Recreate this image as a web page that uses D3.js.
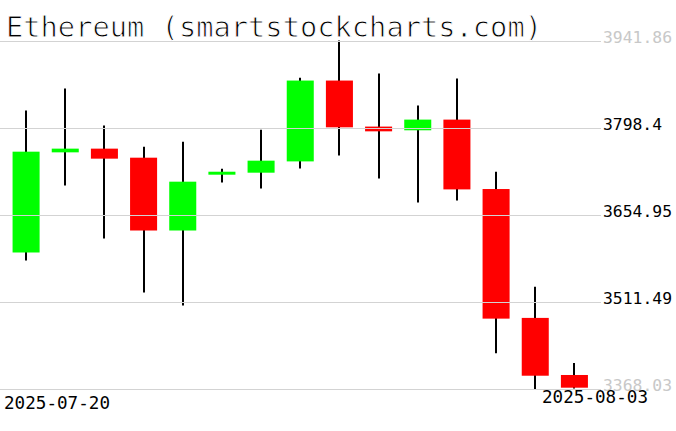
<!DOCTYPE html>
<html><head><meta charset="utf-8">
<script src="https://cdn.jsdelivr.net/npm/d3@7"></script>
<style>body{margin:0;background:#fff}svg{display:block}</style>
</head><body>
<svg id="c" width="676" height="431"></svg>
<script>
const dates = ["2025-07-20","2025-07-21","2025-07-22","2025-07-23","2025-07-24","2025-07-25","2025-07-26","2025-07-27","2025-07-28","2025-07-29","2025-07-30","2025-07-31","2025-08-01","2025-08-02","2025-08-03"];
const open  = [3592.8,3757.7,3763.8,3748.9,3629.0,3720.9,3724.2,3742.8,3875.9,3800.1,3794.0,3811.6,3697.3,3485.1,3391.1];
const high  = [3826.4,3862.7,3801.7,3767.1,3775.3,3730.8,3795.1,3880.4,3941.86,3887.4,3834.7,3879.2,3725.8,3536.2,3410.9];
const low   = [3579.6,3703.3,3615.9,3526.8,3505.4,3708.2,3698.3,3731.3,3752.7,3714.8,3675.2,3678.5,3426.9,3368.03,3369.0];
const close = [3758.8,3763.8,3747.3,3629.0,3709.4,3725.8,3744.0,3875.9,3798.9,3792.3,3811.6,3696.7,3483.9,3389.9,3370.2];
const yTicks = [3368.03,3511.49,3654.95,3798.4,3941.86];
const xLabels = ["2025-07-20","2025-08-03"];
const title = "Ethereum (smartstockcharts.com)";

const svg = d3.select("#c");
const x = d3.scaleBand().domain(dates).range([6.5,594]).paddingInner(0.31).paddingOuter(0.155);
const y = d3.scaleLinear().domain([yTicks[0], yTicks[yTicks.length-1]]).range([389, 40.5]);
const data = dates.map((d,i)=>({d,o:open[i],h:high[i],l:low[i],c:close[i]}));

const g = svg.append("g");
g.selectAll("line.w").data(data).join("line")
  .attr("x1",d=>Math.round(x(d.d)+x.bandwidth()/2)).attr("x2",d=>Math.round(x(d.d)+x.bandwidth()/2))
  .attr("y1",d=>y(d.h)).attr("y2",d=>y(d.l))
  .attr("stroke","#000").attr("stroke-width",2);
g.selectAll("rect").data(data).join("rect")
  .attr("x",d=>x(d.d)).attr("width",x.bandwidth())
  .attr("y",d=>y(Math.max(d.o,d.c))).attr("height",d=>Math.max(1,Math.abs(y(d.o)-y(d.c))))
  .attr("fill",d=>d.c>=d.o?"#00ff00":"#ff0000");

// grid on top
const grid = svg.append("g");
grid.selectAll("line").data(yTicks).join("line")
  .attr("x1",0).attr("x2",601).attr("y1",d=>Math.round(y(d))+0.5).attr("y2",d=>Math.round(y(d))+0.5)
  .attr("stroke","#d3d3d3").attr("stroke-width",1);
grid.selectAll("text").data(yTicks).join("text")
  .attr("x",603).attr("y",d=>Math.round(y(d))+2)
  .attr("font-family","DejaVu Sans Mono").attr("font-size",15)
  .attr("textLength",(d,i)=>i===3?59:69).attr("lengthAdjust","spacingAndGlyphs")
  .attr("fill",(d,i)=>(i===0||i===yTicks.length-1)?"#c8c8c8":"#000")
  .text(d=>d3.format(".2f")(d).replace(/0$/,"").replace(/\.$/,""));

svg.append("text").attr("x",6).attr("y",37).attr("font-family","DejaVu Sans Mono")
  .attr("font-size",28).attr("textLength",536).attr("lengthAdjust","spacingAndGlyphs")
  .attr("stroke","#fff").attr("stroke-width",0.9)
  .attr("fill","#000").text(title);

svg.selectAll("text.xl").data(xLabels).join("text").attr("class","xl")
  .attr("x",(d,i)=>i===0?4:542).attr("y",(d,i)=>i===0?409:403)
  .attr("font-family","DejaVu Sans Mono").attr("font-size",17)
  .attr("textLength",106).attr("lengthAdjust","spacingAndGlyphs")
  .text(d=>d);
</script>
</body></html>
